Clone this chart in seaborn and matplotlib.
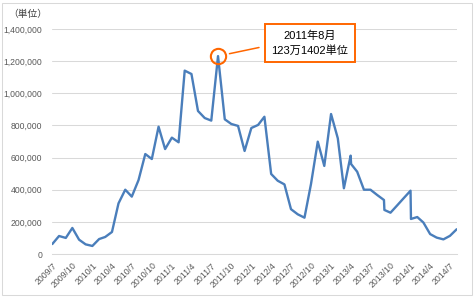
import matplotlib
matplotlib.use("Agg")
import matplotlib.pyplot as plt
import matplotlib.dates as mdates
from matplotlib.patches import Rectangle
from matplotlib.ticker import FuncFormatter
import seaborn as sns
import pandas as pd

# ---- data ----
dates = [
    "2009-07-01", "2009-08-01", "2009-09-01", "2009-10-01", "2009-11-01", "2009-12-01",
    "2010-01-01", "2010-02-01", "2010-03-01", "2010-04-01", "2010-05-01", "2010-06-01",
    "2010-07-01", "2010-08-01", "2010-09-01", "2010-10-01", "2010-11-01", "2010-12-01",
    "2011-01-01", "2011-02-01", "2011-03-01", "2011-04-01", "2011-05-01", "2011-06-01",
    "2011-07-01", "2011-08-01", "2011-09-01", "2011-10-01", "2011-11-01", "2011-12-01",
    "2012-01-01", "2012-02-01", "2012-03-01", "2012-04-01", "2012-05-01", "2012-06-01",
    "2012-07-01", "2012-08-01", "2012-09-01", "2012-10-01", "2012-11-01", "2012-12-01",
    "2013-01-01", "2013-02-01", "2013-03-01", "2013-04-01", "2013-04-03", "2013-05-01",
    "2013-06-01", "2013-07-01", "2013-08-01", "2013-09-01", "2013-09-03", "2013-10-01",
    "2013-11-01", "2013-12-01", "2014-01-01", "2014-01-03", "2014-02-01", "2014-03-01",
    "2014-04-01", "2014-05-01", "2014-06-01", "2014-07-01", "2014-08-01",
]
units = [
    62000, 112000, 100000, 162000, 89000, 60000,
    50000, 93000, 106000, 137000, 315000, 400000,
    357000, 460000, 622000, 591000, 792000, 653000,
    724000, 695000, 1141000, 1120000, 890000, 846000,
    830000, 1231402, 838000, 809000, 797000, 641000,
    784000, 803000, 854000, 498000, 456000, 433000,
    279000, 247000, 226000, 436000, 699000, 548000,
    871000, 720000, 409000, 612000, 560000, 512000,
    400000, 400000, 367000, 336000, 274000, 257000,
    303000, 348000, 394000, 218000, 230000, 196000,
    124000, 102000, 91000, 113000, 154000,
]
peak_date = "2011-08-01"
peak_value = 1231402
peak_label = "2011年8月\n123万1402単位"
unit_label = "（単位）"
y_ticks = [0, 200000, 400000, 600000, 800000, 1000000, 1200000, 1400000]
x_start, x_end = "2009-07-01", "2014-08-01"

# ---- style ----
sns.set_style("white")
plt.rcParams['font.family'] = ['Liberation Sans', 'Noto Sans CJK JP']

df = pd.DataFrame({"date": pd.to_datetime(dates), "units": units})

fig = plt.figure(figsize=(4.76, 3.0), dpi=100)
ax = fig.add_axes([52.3 / 476, 1 - 254 / 300, (456.7 - 52.3) / 476, 225 / 300])

sns.lineplot(data=df, x="date", y="units", ax=ax, color="#4A7EBB",
             linewidth=1.7, estimator=None, sort=False)

ax.set_xlim(pd.Timestamp(x_start), pd.Timestamp(x_end))
ax.set_ylim(0, 1400000)
ax.set_yticks(y_ticks)
ax.yaxis.set_major_formatter(FuncFormatter(lambda v, p: f"{int(v):,}"))
ax.xaxis.set_major_locator(mdates.MonthLocator(bymonth=[1, 4, 7, 10]))
ax.xaxis.set_major_formatter(FuncFormatter(
    lambda v, p: f"{mdates.num2date(v).year}/{mdates.num2date(v).month}"))

ax.set_xlabel("")
ax.set_ylabel("")
ax.yaxis.grid(True, color="#d9d9d9", linewidth=0.75)
ax.xaxis.grid(False)
ax.set_axisbelow(True)
for s in ["left", "top", "right"]:
    ax.spines[s].set_visible(False)
ax.spines["bottom"].set_color("#d9d9d9")
ax.spines["bottom"].set_linewidth(0.75)

ax.tick_params(axis="y", length=0, pad=7, labelsize=6.2, labelcolor="#595959")
ax.tick_params(axis="x", direction="out", length=3, width=0.75, color="#d9d9d9",
               pad=2, labelsize=6.3, labelcolor="#595959")
for lab in ax.get_xticklabels():
    lab.set_rotation(45)
    lab.set_ha("right")
    lab.set_rotation_mode("anchor")

# peak highlight
px = pd.Timestamp(peak_date)
ax.plot([px], [peak_value], marker="o", ms=11, mfc="none", mec="#FF6600", mew=1.5,
        clip_on=False)
ax.annotate(peak_label, xy=(px, peak_value), xytext=(66, 9.4),
            textcoords="offset points", ha="center", va="center", fontsize=8,
            color="black", linespacing=1.45,
            bbox=dict(boxstyle="square,pad=0.6", fc="white", ec="#FF6600", lw=1.4),
            arrowprops=dict(arrowstyle="-", color="#FF6600", lw=1.1,
                            shrinkA=3.6, shrinkB=8.4, relpos=(0, 0.425)))

fig.text(8 / 476, 1 - 14.5 / 300, unit_label, ha="left", va="center",
         fontsize=7, color="#404040")

fig.patches.append(Rectangle((1.5 / 476, 5 / 300), 470.2 / 476, 292 / 300,
                             transform=fig.transFigure, fill=False,
                             ec="#d9d9d9", lw=0.75))

fig.savefig("out.png", dpi=100)
